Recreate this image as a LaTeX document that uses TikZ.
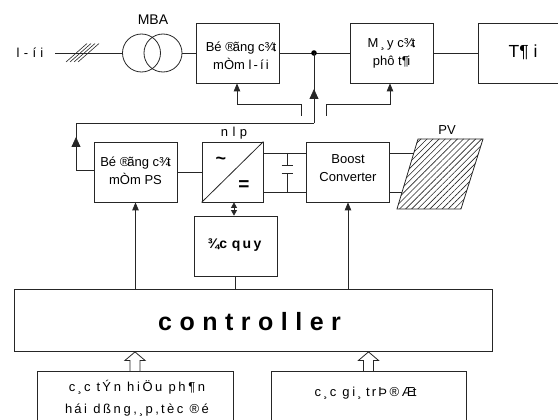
\documentclass[tikz,border=0pt]{standalone}
\usepackage{fontspec}
\setmainfont{Liberation Sans}
\newfontfamily\spaced[LetterSpace=30]{Liberation Sans}
\newfontfamily\spc[LetterSpace=20]{Liberation Sans}
\usetikzlibrary{arrows.meta,patterns.meta,calc}
\tikzset{
  x=1pt,y=-1pt,
  wire/.style={draw=black!85,line width=0.8pt},
  blk/.style={draw=black!85,line width=0.8pt,rectangle,inner sep=0pt,align=center},
  std/.style={blk,minimum width=83pt,minimum height=60pt},
  txt/.style={inner sep=0pt,align=center,font=\fontsize{13}{18}\selectfont},
  lbl/.style={inner sep=0pt,font=\fontsize{13}{18}\selectfont},
  headS/.style={-{Triangle[length=8pt,width=6.5pt]}},
  headL/.style={-{Triangle[length=10pt,width=9pt]}},
  hollow/.style={draw=black!85,line width=0.8pt,fill=white}
}
\begin{document}
\begin{tikzpicture}
\useasboundingbox (0,0) rectangle (558,420);
\clip (0,0) rectangle (558,420);
% top row
\node[lbl] (grid) at (30,53) {l\,\,-\,\,í\,\,i};
\coordinate (gridw) at (55,53);
\node[lbl,font=\fontsize{14}{16}\selectfont] (mba) at (153,19.5) {MBA};
\node[draw=black!85,line width=0.8pt,circle,minimum size=38pt,inner sep=0pt] (t1) at (141.5,53) {};
\node[draw=black!85,line width=0.8pt,circle,minimum size=38pt,inner sep=0pt] (t2) at (163,53) {};
\node[std] (cb1) at (237.5,53) {};
\node[txt] (cb1t) at (241,56) {Bé ®\kern-2pt ãng c¾\kern-3pt t\\mÒm l\,-\,í\,i};
\node[std] (cb2) at (391.5,53) {};
\node[txt] (cb2t) at (391.5,53) {M\,¸\,y c¾\kern-3pt t\\phô t¶\kern-1.5pt i};
\node[std] (load) at (520,53) {};
\node[txt,font=\fontsize{17.5}{18}\selectfont] (loadt) at (523,52.5) {T¶ i};
\draw[wire] (gridw) -- (t1.west);
\foreach \d in {0,4,8,12}{\draw[wire,line width=0.6pt] ($(66,62)+(\d,0)$) -- ($(87,43.5)+(\d,0)$);}
\draw[wire] (t2.east) -- (cb1.west);
\draw[wire] (cb1.east) -- (cb2.west);
\draw[wire] (cb2.east) -- (load.west);
\coordinate (j) at (314,53);
\fill[black] (j) circle (2.8pt);
% ps row
\node[std] (ps) at (135.5,172) {};
\node[txt] (pst) at (135.5,171) {Bé ®\kern-2pt ãng c¾\kern-3pt t\\mÒm PS};
\node[draw=black!85,line width=0.8pt,rectangle,minimum width=61pt,minimum height=60pt] (inv) at (232.5,172) {};
\node[std] (boost) at (348,172) {};
\node[txt] (boostt) at (348,168.5) {Boost\\Converter};
\node[std] (bat) at (235.5,246) {};
\node[txt,font=\bfseries\fontsize{14}{16}\selectfont] (batt) at (234.5,245) {¾c\,\,q\,u\,y};
\draw[wire] (inv.south west) -- (inv.north east);
\node[inner sep=0pt,font=\bfseries\fontsize{18}{18}\selectfont] (tilde) at (221,161) {\textasciitilde};
\node[inner sep=0pt,font=\bfseries\fontsize{19}{19}\selectfont] (eq) at (244,186) {=};
\node[lbl,font=\fontsize{13}{16}\selectfont] (nlp) at (234,133) {n\,\,l\,\,p};
\node[lbl,font=\fontsize{13}{16}\selectfont] (pvl) at (447,130) {PV};
\draw[wire] (ps.east |- inv.west) -- (inv.west);
% capacitor
\coordinate (c1) at (287,153);\coordinate (c2) at (287,192);
\coordinate (p1) at (287,165);\coordinate (p2) at (287,173);
\draw[wire] (263,153) -- (307,153);
\draw[wire] (263,192) -- (307,192);
\draw[wire] (c1) -- (p1); \draw[wire] (c2) -- (p2);
\draw[wire] ($(p1)+(-5.5,0)$) -- ($(p1)+(5.5,0)$);
\draw[wire] ($(p2)+(-5.5,0)$) -- ($(p2)+(5.5,0)$);
% PV
\coordinate (pv1) at (414,153);\coordinate (pv2) at (402,192);
\draw[wire] (boost.east |- pv1) -- (pv1);
\draw[wire] (boost.east |- pv2) -- (pv2);
\draw[draw=black!85,line width=0.8pt,pattern={Lines[angle=45,distance=4.3pt,line width=0.6pt]},pattern color=black!85]
  (418,139) -- (483,139) -- (461,209) -- (397,209) -- cycle;
% controller
\node[blk,minimum width=477.5pt,minimum height=62pt] (ctrl) at (253.25,320.5) {};
\node[inner sep=0pt] (ctrlt) at (249.5,322) {\spaced\bfseries\fontsize{25}{27}\selectfont controller};
\node[blk,anchor=north,minimum width=196pt,minimum height=60pt] (sig) at (135,371) {};
\node[txt,font=\spc\fontsize{13}{22}\selectfont] (sigt) at (137,398) {c\,¸\,c t\,Ýn hiÖu ph¶n\\h\,ái dßng,\,¸\,p,\,t\,èc ®é};
\node[blk,anchor=north,minimum width=195pt,minimum height=60pt] (ref) at (368.5,371) {};
\node[txt,font=\spc\fontsize{13}{18}\selectfont] (reft) at (365.5,393) {c\,¸\,c gi\,¸\,\,t\,r\,Þ®Æ\kern-2pt t};
% feedback wiring
\coordinate (a) at (237,104);\coordinate (b) at (301,104);\coordinate (b2) at (301,116);
\draw[wire,headS] (b2) -- (b) -- (a) -- (cb1.south -| a);
\coordinate (c) at (326,116);\coordinate (d) at (326,104);\coordinate (e) at (390,104);
\draw[wire,headS] (c) -- (d) -- (e) -- (cb2.south -| e);
\coordinate (f) at (314,123.5);\coordinate (g) at (76,123.5);\coordinate (h) at (76,170);
\draw[wire,headL] (h -| ps.west) -- (h) -- (76,137);
\draw[wire] (76,140) -- (g) -- (f);
\draw[wire,headL] (f) -- (314,89);
\draw[wire] (314,92) -- (j);
% vertical links to controller
\draw[wire,headS] (ctrl.north -| ps.south) -- (ps.south);
\draw[wire,headS] (ctrl.north -| boost.south) -- (boost.south);
\draw[wire] (bat.south) -- (ctrl.north -| bat.south);
\draw[wire,{Triangle[length=5.5pt,width=6pt]}-{Triangle[length=5.5pt,width=6pt]}] (bat.north -| nlp.south) -- (inv.south -| nlp.south);
% hollow arrows
\draw[hollow] (ctrl.south -| sig.north) -- ++(10,8.5) -- ++(-5,0) -- ++(0,11) -- ++(-10,0) -- ++(0,-11) -- ++(-5,0) -- cycle;
\draw[hollow] (ctrl.south -| ref.north) -- ++(10,8.5) -- ++(-5,0) -- ++(0,11) -- ++(-10,0) -- ++(0,-11) -- ++(-5,0) -- cycle;
\end{tikzpicture}
\end{document}
